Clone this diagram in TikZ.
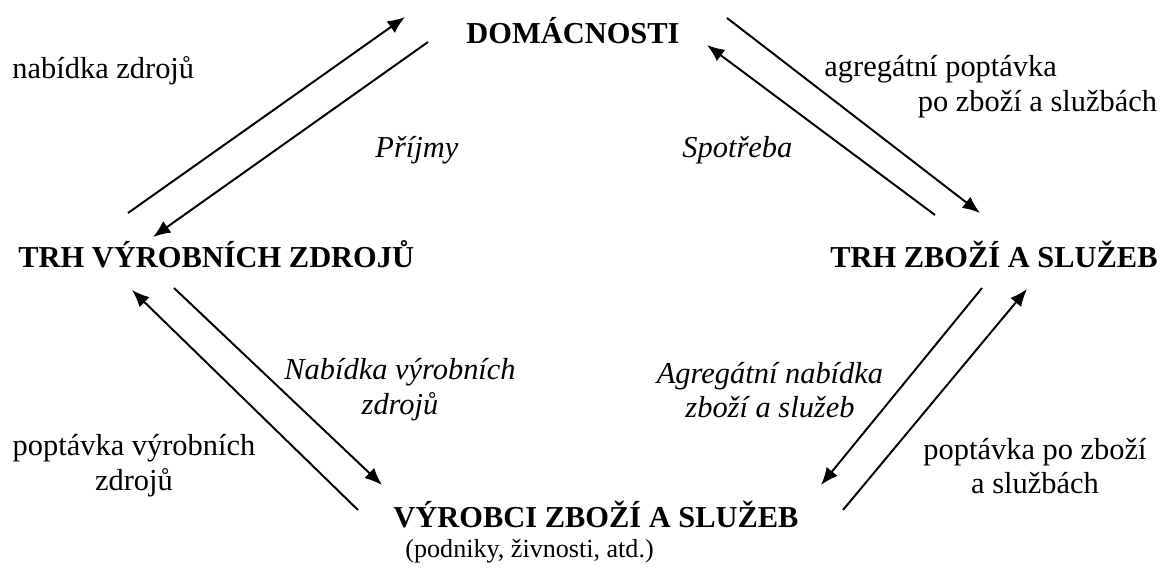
\documentclass[tikz,border=0pt]{standalone}
\usepackage{fontspec}
\setmainfont{Liberation Serif}
\usetikzlibrary{arrows.meta}

\tikzset{
  sector/.style={font=\fontsize{14}{16}\selectfont\bfseries, inner sep=0pt},
  flow/.style={font=\fontsize{14}{16}\selectfont, inner sep=0pt, align=center},
  flowit/.style={flow, font=\fontsize{14}{16}\selectfont\itshape},
  arr/.style={-{Latex[length=8pt,width=6.5pt]}, line width=0.9pt},
}

\begin{document}
\begin{tikzpicture}[x=0.46pt, y=-0.46pt]
  \useasboundingbox (0,0) rectangle (1163,573);

  \node[sector, anchor=base] (dom) at (573,43) {DOMÁCNOSTI};
  \node[sector, anchor=base west] (trhvz) at (18,267) {TRH VÝROBNÍCH ZDROJŮ};
  \node[sector, anchor=base east] (trhzs) at (1158,267) {TRH ZBOŽÍ A SLUŽEB};
  \node[sector, anchor=base west] (vyr) at (393,527) {VÝROBCI ZBOŽÍ A SLUŽEB};
  \node[flow, anchor=base west, font=\fontsize{12}{14}\selectfont] (podn) at (405,557) {(podniky, živnosti, atd.)};

  \node[flow, anchor=base west] (nabz) at (12,78) {nabídka zdrojů};
  \node[flow, anchor=west, align=left] (agrp) at (824,87) {agregátní poptávka\\\hspace*{43pt}po zboží a službách};
  \node[flowit, anchor=base west] (prij) at (375,157) {Příjmy};
  \node[flowit, anchor=base west] (spot) at (682,157) {Spotřeba};
  \node[flowit] (nabvz) at (400,390) {Nabídka výrobních\\zdrojů};
  \node[flowit] (agrn) at (770,390) {Agregátní nabídka\\zboží a služeb};
  \node[flow] (popvz) at (134,466) {poptávka výrobních\\zdrojů};
  \node[flow] (poppz) at (1035,466) {poptávka po zboží\\a službách};

  \coordinate (A1) at (128,213);  \coordinate (A2) at (405,17);
  \coordinate (B1) at (428,42);   \coordinate (B2) at (153,237);
  \coordinate (C1) at (727,18);   \coordinate (C2) at (980,213);
  \coordinate (D1) at (935,215);  \coordinate (D2) at (707,45);
  \coordinate (E1) at (358,510);  \coordinate (E2) at (132,290);
  \coordinate (F1) at (174,288);  \coordinate (F2) at (382,485);
  \coordinate (G1) at (982,288);  \coordinate (G2) at (821,485);
  \coordinate (H1) at (843,510);  \coordinate (H2) at (1027,289);

  \draw[arr] (A1) -- (A2);
  \draw[arr] (B1) -- (B2);
  \draw[arr] (C1) -- (C2);
  \draw[arr] (D1) -- (D2);
  \draw[arr] (E1) -- (E2);
  \draw[arr] (F1) -- (F2);
  \draw[arr] (G1) -- (G2);
  \draw[arr] (H1) -- (H2);
\end{tikzpicture}
\end{document}
